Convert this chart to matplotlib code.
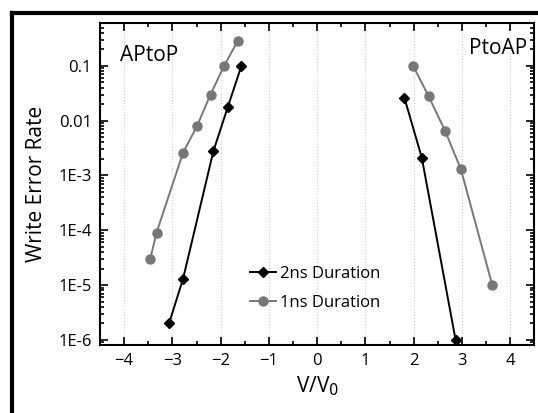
import numpy as np
import matplotlib.pyplot as plt
from matplotlib.lines import Line2D
from matplotlib.ticker import LogLocator, FixedLocator, MultipleLocator

plt.rcParams['font.family'] = ['Open Sans', 'DejaVu Sans']
plt.rcParams['font.weight'] = 'medium'

# 2ns duration (black diamonds)
v_2ns_aptop = [-3.07, -2.78, -2.15, -1.85, -1.57]
wer_2ns_aptop = [2e-6, 1.3e-5, 2.8e-3, 1.8e-2, 0.1]
v_2ns_ptoap = [1.81, 2.17, 2.87]
wer_2ns_ptoap = [2.6e-2, 2.1e-3, 1e-6]

# 1ns duration (gray circles)
v_1ns_aptop = [-3.46, -3.33, -2.78, -2.49, -2.21, -1.93, -1.65]
wer_1ns_aptop = [3e-5, 9e-5, 2.6e-3, 8e-3, 3e-2, 0.1, 0.28]
v_1ns_ptoap = [1.99, 2.31, 2.65, 2.98, 3.63]
wer_1ns_ptoap = [0.1, 2.8e-2, 6.6e-3, 1.3e-3, 1e-5]

ytick_vals = [1e-6, 1e-5, 1e-4, 1e-3, 1e-2, 1e-1]
ytick_labels = ['1E-6', '1E-5', '1E-4', '1E-3', '0.01', '0.1']

fig = plt.figure(figsize=(5.38, 4.13), dpi=100)
ax = fig.add_axes([0.186, 0.165, 0.807, 0.779])

gray = '#777777'
ax.plot(v_2ns_aptop, wer_2ns_aptop, color='black', marker='D', ms=5.5, lw=1.4,
        label='2ns Duration', zorder=4)
ax.plot(v_2ns_ptoap, wer_2ns_ptoap, color='black', marker='D', ms=5.5, lw=1.4, zorder=4)
ax.plot(v_1ns_aptop, wer_1ns_aptop, color=gray, marker='o', ms=6.5, lw=1.4,
        label='1ns Duration', zorder=3)
ax.plot(v_1ns_ptoap, wer_1ns_ptoap, color=gray, marker='o', ms=6.5, lw=1.4, zorder=3)

ax.set_yscale('log')
ax.set_xlim(-4.5, 4.5)
ax.set_ylim(10 ** -6.09, 10 ** -0.22)
ax.xaxis.set_major_locator(MultipleLocator(1))
ax.xaxis.set_minor_locator(MultipleLocator(0.5))
ax.yaxis.set_major_locator(FixedLocator(ytick_vals))
ax.set_yticklabels(ytick_labels)
ax.yaxis.set_minor_locator(LogLocator(base=10, subs=np.arange(2, 10), numticks=20))

ax.tick_params(which='both', direction='in', top=True, right=True, width=1.2,
               labelsize=12, pad=6)
ax.tick_params(which='major', length=6)
ax.tick_params(which='minor', length=3)
for s in ax.spines.values():
    s.set_linewidth(1.5)

ax.grid(axis='x', which='major', linestyle=':', color='#cccccc', lw=0.8)
ax.set_axisbelow(True)

ax.set_xlabel('V/V$_0$', fontsize=15, labelpad=4)
ax.set_ylabel('Write Error Rate', fontsize=15, labelpad=8)

ax.text(0.045, 0.9, 'APtoP', transform=ax.transAxes, fontsize=15, va='center', ha='left')
ax.text(0.985, 0.92, 'PtoAP', transform=ax.transAxes, fontsize=15, va='center', ha='right')

ax.legend(loc='lower left', bbox_to_anchor=(0.31, 0.06), frameon=False, fontsize=12,
          handlelength=1.6, handletextpad=0.2, labelspacing=0.75)

# thick frame at top and left of the figure
fig.add_artist(Line2D([0.023, 1.0], [0.968, 0.968], transform=fig.transFigure,
                      color='black', lw=3))
fig.add_artist(Line2D([0.023, 0.023], [0.0, 0.968], transform=fig.transFigure,
                      color='black', lw=3))

fig.savefig('out.png', dpi=100)
